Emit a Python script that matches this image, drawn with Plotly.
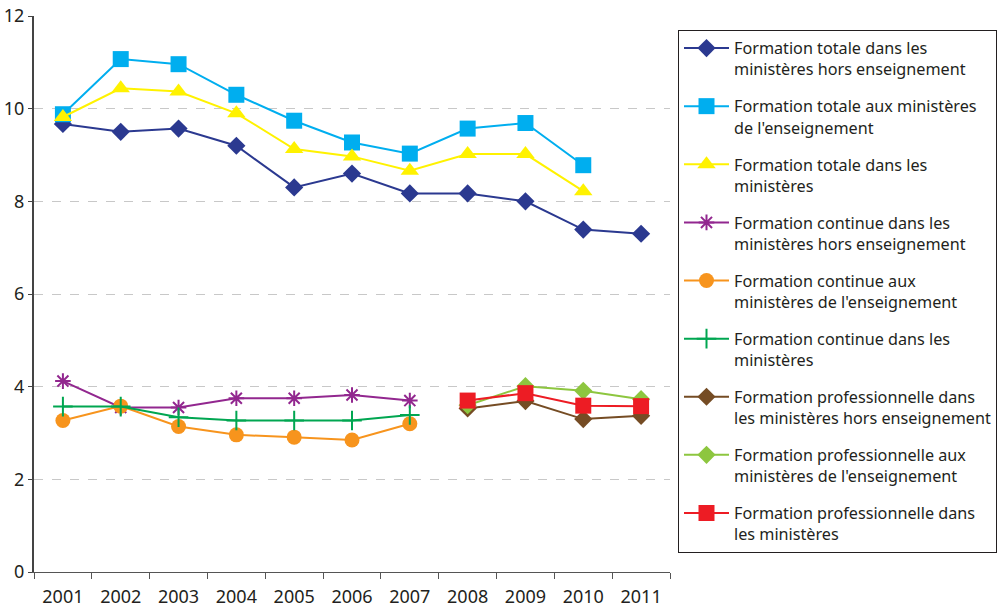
import plotly.graph_objects as go

years = ["2001", "2002", "2003", "2004", "2005", "2006", "2007", "2008", "2009", "2010", "2011"]

tot_hors = [9.67, 9.50, 9.57, 9.20, 8.30, 8.60, 8.17, 8.17, 8.00, 7.39, 7.30]
tot_ens = [9.88, 11.07, 10.96, 10.30, 9.74, 9.27, 9.03, 9.57, 9.69, 8.78, None]
tot_all = [9.82, 10.44, 10.37, 9.90, 9.13, 8.97, 8.66, 9.02, 9.02, 8.22, None]
cont_hors = [4.12, 3.55, 3.55, 3.75, 3.75, 3.82, 3.70, None, None, None, None]
cont_ens = [3.27, 3.58, 3.14, 2.96, 2.91, 2.85, 3.20, None, None, None, None]
cont_all = [3.57, 3.57, 3.34, 3.27, 3.27, 3.27, 3.39, None, None, None, None]
pro_hors = [None, None, None, None, None, None, None, 3.53, 3.69, 3.30, 3.37]
pro_ens = [None, None, None, None, None, None, None, 3.60, 4.01, 3.91, 3.73]
pro_all = [None, None, None, None, None, None, None, 3.70, 3.86, 3.59, 3.58]

names = [
    "Formation totale dans les<br>ministères hors enseignement",
    "Formation totale aux ministères<br>de l'enseignement",
    "Formation totale dans les<br>ministères",
    "Formation continue dans les<br>ministères hors enseignement",
    "Formation continue aux<br>ministères de l'enseignement",
    "Formation continue dans les<br>ministères",
    "Formation professionnelle dans<br>les ministères hors enseignement",
    "Formation professionnelle aux<br>ministères de l'enseignement",
    "Formation professionnelle dans<br>les ministères",
]
series = [tot_hors, tot_ens, tot_all, cont_hors, cont_ens, cont_all, pro_hors, pro_ens, pro_all]
colors = ["#2B3990", "#00AEEF", "#FFF200", "#92278F", "#F7941D", "#00A651", "#754C24", "#8DC63F", "#ED1C24"]
symbols = ["diamond", "square", "triangle-up", "asterisk-open", "circle", "cross-thin-open", "diamond", "diamond", "square"]
sizes = [14, 16, 16, 13, 15, 14, 14, 14, 16]

fig = go.Figure()
for i, (nm, vals) in enumerate(zip(names, series)):
    fig.add_trace(go.Scatter(
        x=years, y=vals, name=nm, mode="lines+markers",
        line=dict(color=colors[i], width=2),
        marker=dict(symbol=symbols[i], size=sizes[i], color=colors[i],
                    line=dict(color=colors[i], width=2 if symbols[i].endswith("open") else 0)),
        connectgaps=False, legendgroup="g%d" % i,
    ))

fig.update_layout(
    width=999, height=608,
    margin=dict(l=34, r=329, t=16, b=36, autoexpand=False),
    paper_bgcolor="white", plot_bgcolor="white",
    font=dict(family="Noto Sans, Open Sans, sans-serif", size=16, color="#231F20"),
    showlegend=True,
    legend=dict(
        xref="container", yref="container",
        x=678 / 999, y=1 - 30 / 608, xanchor="left", yanchor="top",
        bordercolor="#231F20", borderwidth=1, bgcolor="white",
        font=dict(size=16.2), valign="top", traceorder="grouped",
        tracegroupgap=13, itemwidth=45, maxheight=1.0,
    ),
)
fig.update_xaxes(
    type="category", range=[-0.5, 10.5], tickson="boundaries",
    ticks="outside", ticklen=6, tickcolor="#555", showline=True,
    linecolor="#555", linewidth=1, showgrid=False, ticklabelstandoff=8,
    tickfont=dict(size=18), automargin=False,
)
fig.update_yaxes(
    range=[0, 12], dtick=2, showgrid=True, gridcolor="#c8c8c8", griddash="dash",
    gridwidth=1, showline=True, linecolor="#444", linewidth=2,
    ticks="outside", ticklen=4, tickcolor="#444", zeroline=False,
    tickfont=dict(size=18), automargin=False, ticklabeloverflow="allow",
)

fig.write_html("out.html", config={"displayModeBar": False},
               post_script="document.body.style.margin='0';")
